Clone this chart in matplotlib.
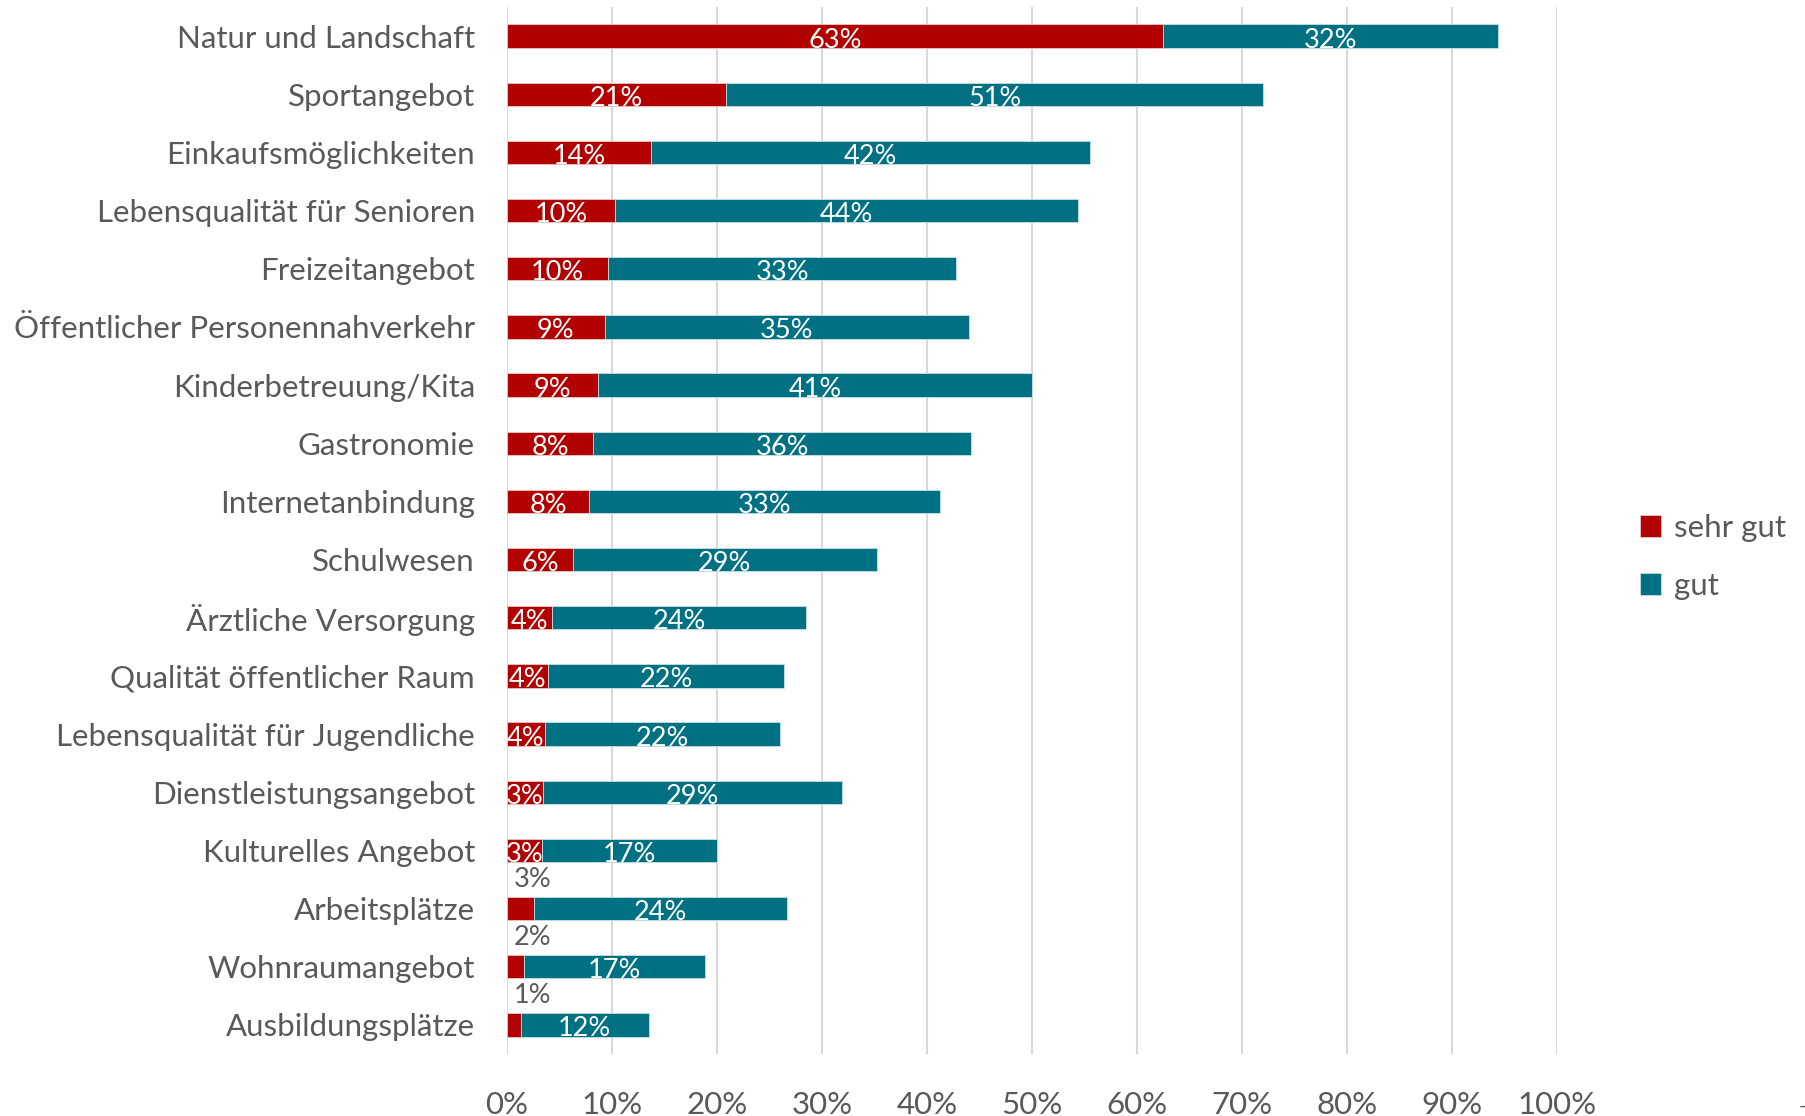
import matplotlib
matplotlib.use("Agg")
import matplotlib.pyplot as plt
import numpy as np

categories = [
    "Natur und Landschaft", "Sportangebot", "Einkaufsmöglichkeiten",
    "Lebensqualität für Senioren", "Freizeitangebot",
    "Öffentlicher Personennahverkehr", "Kinderbetreuung/Kita", "Gastronomie",
    "Internetanbindung", "Schulwesen", "Ärztliche Versorgung",
    "Qualität öffentlicher Raum", "Lebensqualität für Jugendliche",
    "Dienstleistungsangebot", "Kulturelles Angebot", "Arbeitsplätze",
    "Wohnraumangebot", "Ausbildungsplätze",
]
sehr_gut = [62.5, 20.9, 13.7, 10.3, 9.6, 9.3, 8.7, 8.2, 7.8, 6.3, 4.3, 3.9, 3.6, 3.4, 3.3, 2.6, 1.6, 1.3]
gut = [31.9, 51.1, 41.8, 44.1, 33.2, 34.7, 41.3, 36.0, 33.4, 28.9, 24.2, 22.5, 22.4, 28.5, 16.7, 24.1, 17.3, 12.2]
sehr_gut_labels = ["63%", "21%", "14%", "10%", "10%", "9%", "9%", "8%", "8%", "6%", "4%", "4%", "4%", "3%", "3%", "3%", "2%", "1%"]
gut_labels = ["32%", "51%", "42%", "44%", "33%", "35%", "41%", "36%", "33%", "29%", "24%", "22%", "22%", "29%", "17%", "24%", "17%", "12%"]
outside_label = [False] * 15 + [True, True, True]
xticks = [0, 10, 20, 30, 40, 50, 60, 70, 80, 90, 100]
xtick_labels = ["0%", "10%", "20%", "30%", "40%", "50%", "60%", "70%", "80%", "90%", "100%"]

RED = "#B20000"
TEAL = "#007083"
GRAY = "#595959"

plt.rcParams["font.family"] = ["Lato", "DejaVu Sans"]

fig = plt.figure(figsize=(18.06, 11.16), dpi=100)
W, H = 1806, 1116
ax = fig.add_axes([507 / W, 1 - 1054 / H, 1050 / W, (1054 - 7) / H])

y = np.arange(len(categories))
sg = np.array(sehr_gut)
g = np.array(gut)
bh = 0.4
ax.barh(y, sg, height=bh, color=RED, edgecolor="#e8c8c8", linewidth=0.6, label="sehr gut", zorder=3)
ax.barh(y, g, left=sg, height=bh, color=TEAL, edgecolor="#c9e0e4", linewidth=0.6, label="gut", zorder=3)

fs_lab = 19.5
fs_txt = 22.5
for i in range(len(categories)):
    if outside_label[i]:
        ax.annotate(sehr_gut_labels[i], xy=(0, y[i] - 0.5), xytext=(5, 0),
                    textcoords="offset points", ha="left", va="center",
                    color=GRAY, fontsize=fs_lab, zorder=4)
    else:
        ax.text(sg[i] / 2, y[i] + 0.07, sehr_gut_labels[i], ha="center", va="center",
                color="white", fontsize=fs_lab, zorder=4)
    ax.text(sg[i] + g[i] / 2, y[i] + 0.07, gut_labels[i], ha="center", va="center",
            color="white", fontsize=fs_lab, zorder=4)

ax.set_xlim(0, 100)
ax.set_ylim(len(categories) - 0.5, -0.5)
ax.set_yticks(y)
ax.set_yticklabels(categories, fontsize=fs_txt, color=GRAY)
ax.set_xticks(xticks)
ax.set_xticklabels(xtick_labels, fontsize=fs_txt, color=GRAY)
ax.tick_params(axis="y", length=0, pad=23)
ax.tick_params(axis="x", length=0, pad=27)
ax.grid(axis="x", color="#D9D9D9", linewidth=1.5, zorder=0)
ax.set_axisbelow(True)
for s in ax.spines.values():
    s.set_visible(False)

leg = ax.legend(loc="center left", bbox_to_anchor=(1624 / W, 1 - 557 / H),
                bbox_transform=fig.transFigure, frameon=False,
                prop={"size": fs_txt},
                handlelength=0.7, handleheight=0.7, handletextpad=0.4,
                labelspacing=0.95, borderpad=0, labelcolor=GRAY)

fig.text(1802 / W, 1 - 1106 / H, "-", color=GRAY, fontsize=14, ha="center", va="center")

fig.savefig("out.png", dpi=100)
